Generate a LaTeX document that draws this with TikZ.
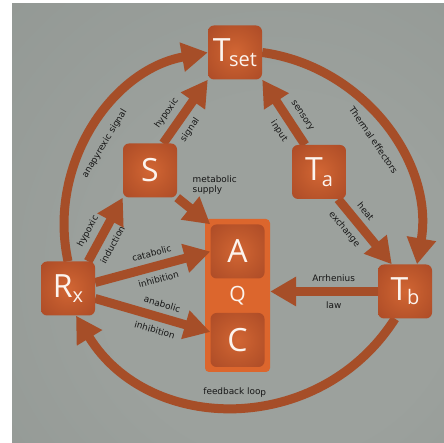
\documentclass[tikz,border=0pt]{standalone}
\usepackage{fontspec}
\setmainfont{DejaVu Sans}
\newfontfamily\boxfont{Open Sans}
\usetikzlibrary{arrows.meta,calc}

\definecolor{arrowc}{RGB}{166,78,40}
\definecolor{boxin}{RGB}{210,102,52}
\definecolor{boxmid}{RGB}{190,88,44}
\definecolor{boxout}{RGB}{168,72,38}
\definecolor{contc}{RGB}{220,102,45}
\definecolor{bglight}{RGB}{156,161,157}
\definecolor{bgmid}{RGB}{140,146,142}
\definecolor{bgdark}{RGB}{118,124,120}
\definecolor{labc}{RGB}{22,22,22}
\definecolor{letc}{RGB}{252,244,238}

\pgfdeclareradialshading{boxglow}{\pgfpoint{0bp}{0bp}}{color(0bp)=(boxin); color(18bp)=(boxmid); color(40bp)=(boxout); color(60bp)=(boxout)}
\pgfdeclareradialshading{bgglow}{\pgfpoint{8bp}{-8bp}}{color(0bp)=(bglight); color(20bp)=(bglight); color(60bp)=(bgmid); color(80bp)=(bgdark)}

\pgfdeclarelayer{back}
\pgfdeclarelayer{mid}
\pgfsetlayers{back,mid,main}

\newcommand{\subf}{\fontsize{20}{20}\selectfont}

\begin{document}
\begin{tikzpicture}[x=1pt,y=1pt,
  box/.style={rounded corners=6pt, minimum width=54pt, minimum height=54pt,
    shade, shading=boxglow, inner sep=0pt, text=letc,
    font=\boxfont\fontsize{32}{32}\selectfont},
  cont/.style={rounded corners=4pt, minimum width=65pt, minimum height=153pt,
    fill=contc, inner sep=0pt},
  qtext/.style={text=letc, font=\boxfont\fontsize{21}{21}\selectfont, inner sep=0pt},
  arr/.style={line width=9pt, draw=arrowc, -{Triangle[width=28pt,length=26pt]}},
  lab/.style={font=\fontsize{8.9}{9.8}\selectfont, text=labc, inner sep=1pt},
]
\useasboundingbox (0,0) rectangle (444,443);

\begin{pgfonlayer}{back}
  \shade[shading=bgglow] (12,0) rectangle (444,439);
  \node[cont] (Qbox) at (237.5,147.5) {};
\end{pgfonlayer}

\node[box] (Tset) at (235,390.5) {T\kern-1.5pt\raisebox{-5pt}{\subf set}};
\node[box] (S) at (150,272.5) {S};
\node[box] (Ta) at (319,271) {T\kern-1pt\raisebox{-6pt}{\subf a}};
\node[box] (Rx) at (68,154.5) {R\raisebox{-5pt}{\subf x}};
\node[box] (Tb) at (405,151.5) {T\kern-1pt\raisebox{-4pt}{\subf b}};
\node[box] (A) at (237.5,191.5) {A};
\node[box] (C) at (237.5,103) {C};
\node[qtext] (Q) at (237.5,147) {Q};

\begin{pgfonlayer}{mid}
  % outer circle
  \draw[arr] (Rx.north) to[bend left=46]
    node[lab, sloped, below=8pt, pos=0.47] {anapyrexic signal} (Tset.west);
  \draw[arr] (Tset.east) to[bend left=46]
    node[lab, sloped, below=8pt, pos=0.52] {Thermal effectors} ([xshift=12pt]Tb.north);
  \draw[arr] ([xshift=-10pt]Tb.south) to[bend left=58, looseness=1.12]
    node[lab, sloped, above=4pt, pos=0.5] {feedback loop} ([xshift=8pt]Rx.south);
  % inner arrows
  \draw[arr] ([xshift=-7pt]Rx.north east) -- (S.south west)
    node[lab, sloped, above=4.5pt, pos=0.36] {hypoxic}
    node[lab, sloped, below=4.5pt, pos=0.36] {induction};
  \draw[arr] ([xshift=-14pt]S.north east) -- (Tset.south west)
    node[lab, sloped, above=4.5pt, pos=0.34] {hypoxic}
    node[lab, sloped, below=4.5pt, pos=0.34] {signal};
  \draw[arr] (S.south east) -- (A.north west)
    node[lab, pos=0, anchor=south west, xshift=10pt, yshift=-2pt, align=left] {metabolic\\supply};
  \draw[arr] ([xshift=-14pt]Ta.north) -- (Tset.south east)
    node[lab, sloped, above=4.5pt, pos=0.33] {sensory}
    node[lab, sloped, below=4.5pt, pos=0.33] {input};
  \draw[arr] ([xshift=-8pt]Ta.south east) -- ([xshift=14pt]Tb.north west)
    node[lab, sloped, above=4.5pt, pos=0.32] {heat}
    node[lab, sloped, below=4.5pt, pos=0.32] {exchange};
  \draw[arr] (Tb.west) -- (Tb.west -| Qbox.east)
    node[lab, above=4.5pt, pos=0.41] {Arrhenius}
    node[lab, below=4.5pt, pos=0.41] {law};
  \draw[arr] ([yshift=6pt]Rx.east) -- (A.west)
    node[lab, sloped, above=4.5pt, pos=0.52] {catabolic}
    node[lab, sloped, below=4.5pt, pos=0.52] {inhibition};
  \draw[arr] ([yshift=-10pt]Rx.east) -- ([yshift=8pt]C.west)
    node[lab, sloped, above=4.5pt, pos=0.55] {anabolic}
    node[lab, sloped, below=4.5pt, pos=0.55] {inhibition};
\end{pgfonlayer}
\end{tikzpicture}
\end{document}
